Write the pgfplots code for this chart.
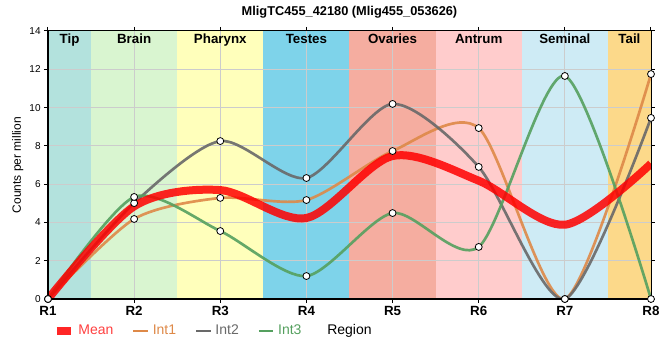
\documentclass[border=0pt]{standalone}
\usepackage{pgfplots}
\pgfplotsset{compat=1.18}
\usepackage{fontspec}
\setmainfont{Liberation Sans}
\definecolor{cTip}{RGB}{179,226,221}
\definecolor{cBrain}{RGB}{217,245,208}
\definecolor{cPhar}{RGB}{255,255,187}
\definecolor{cTest}{RGB}{126,211,234}
\definecolor{cOva}{RGB}{245,173,160}
\definecolor{cAntr}{RGB}{255,204,204}
\definecolor{cSem}{RGB}{206,235,245}
\definecolor{cTail}{RGB}{252,217,138}
\definecolor{cI1}{RGB}{222,137,72}
\definecolor{cI2}{RGB}{105,105,105}
\definecolor{cI3}{RGB}{85,160,95}
\definecolor{cMean}{RGB}{255,0,0}
\definecolor{cGrid}{RGB}{204,204,204}
\begin{document}
\begin{tikzpicture}
\path[use as bounding box] (-36pt,-45.75pt) rectangle (459pt,224.25pt);
\begin{axis}[
  at={(0pt,0pt)}, anchor=south west,
  scale only axis, width=452.25pt, height=201pt,
  xmin=1, xmax=8, ymin=0, ymax=14,
  xtick={1,2,3,4,5,6,7,8},
  xticklabels={R1,R2,R3,R4,R5,R6,R7,R8},
  ytick={0,2,4,6,8,10,12,14},
  /pgf/number format/assume math mode=true,
  axis line style={black, line width=1pt},
  tick align=outside, major tick length=3pt,
  tick style={black, line width=0.75pt},
  xticklabel style={font=\bfseries\fontsize{10}{12}\selectfont, yshift=1pt},
  yticklabel style={font=\fontsize{7.5}{9}\selectfont, xshift=1pt},
  xlabel={Region},
  xlabel style={at={(axis description cs:0.5,-0.119)}, anchor=center, font=\fontsize{10.5}{12}\selectfont},
  ylabel={Counts per million},
  ylabel style={at={(axis description cs:-0.05,0.5)}, anchor=center, font=\fontsize{9}{11}\selectfont},
  title={MligTC455\_42180 (Mlig455\_053626)},
  title style={at={(axis description cs:0.5,1)}, anchor=base, yshift=5.5pt, font=\bfseries\fontsize{9.6}{11}\selectfont},
  legend columns=4,
  legend style={at={(axis description cs:0.008,-0.119)}, anchor=west, draw=none, fill=none,
    font=\fontsize{10.5}{12}\selectfont, inner sep=0pt,
    /tikz/every even column/.append style={column sep=12pt},
    /tikz/every odd column/.append style={column sep=0.5pt}},
  legend cell align=left,
  legend image code/.code={\draw[#1] (0pt,0pt) -- (11pt,0pt);},
]
% background bands
\addplot[fill=cTip, draw=none, forget plot] coordinates {(1,14) (1.5,14)} \closedcycle;
\addplot[fill=cBrain, draw=none, forget plot] coordinates {(1.5,14) (2.5,14)} \closedcycle;
\addplot[fill=cPhar, draw=none, forget plot] coordinates {(2.5,14) (3.5,14)} \closedcycle;
\addplot[fill=cTest, draw=none, forget plot] coordinates {(3.5,14) (4.5,14)} \closedcycle;
\addplot[fill=cOva, draw=none, forget plot] coordinates {(4.5,14) (5.5,14)} \closedcycle;
\addplot[fill=cAntr, draw=none, forget plot] coordinates {(5.5,14) (6.5,14)} \closedcycle;
\addplot[fill=cSem, draw=none, forget plot] coordinates {(6.5,14) (7.5,14)} \closedcycle;
\addplot[fill=cTail, draw=none, forget plot] coordinates {(7.5,14) (8,14)} \closedcycle;

% grid
\draw[cGrid, line width=0.75pt] (axis cs:2,0) -- (axis cs:2,14) (axis cs:3,0) -- (axis cs:3,14)
  (axis cs:4,0) -- (axis cs:4,14) (axis cs:5,0) -- (axis cs:5,14) (axis cs:6,0) -- (axis cs:6,14)
  (axis cs:7,0) -- (axis cs:7,14)
  (axis cs:1,2) -- (axis cs:8,2) (axis cs:1,4) -- (axis cs:8,4) (axis cs:1,6) -- (axis cs:8,6)
  (axis cs:1,8) -- (axis cs:8,8) (axis cs:1,10) -- (axis cs:8,10) (axis cs:1,12) -- (axis cs:8,12);

% legend images
\addlegendimage{cMean, opacity=0.85, line width=5.5pt}
\addlegendentry{\textcolor{cMean!75}{Mean}}
\addlegendimage{cI1, line width=2pt}
\addlegendentry{\textcolor{cI1}{Int1}}
\addlegendimage{cI2, line width=2pt}
\addlegendentry{\textcolor{cI2}{Int2}}
\addlegendimage{cI3, line width=2pt}
\addlegendentry{\textcolor{cI3}{Int3}}

% series lines
\addplot[cI1, line width=2pt, opacity=0.9, smooth, tension=0.45, no marks, forget plot] coordinates {(1,0) (2,4.18) (3,5.28) (4,5.17) (5,7.73) (6,8.93) (7,0) (8,11.75)};
\addplot[cI2, line width=2pt, opacity=0.9, smooth, tension=0.45, no marks, forget plot] coordinates {(1,0) (2,5.01) (3,8.25) (4,6.32) (5,10.19) (6,6.9) (7,0) (8,9.46)};
\addplot[cI3, line width=2pt, opacity=0.9, smooth, tension=0.45, no marks, forget plot] coordinates {(1,0) (2,5.33) (3,3.55) (4,1.2) (5,4.49) (6,2.72) (7,11.65) (8,0)};
\addplot[cMean, line width=6pt, opacity=0.85, smooth, tension=0.5, no marks, forget plot] coordinates {(1,0) (2,4.84) (3,5.69) (4,4.23) (5,7.47) (6,6.18) (7,3.88) (8,7.07)};

\draw[black, line width=2pt] (rel axis cs:0,1) -- (rel axis cs:0,0) -- (rel axis cs:1,0);

% markers
\addplot[only marks, mark=*, mark size=2.6pt, mark options={fill=white, draw=black, line width=0.6pt}, forget plot] coordinates {(1,0) (2,4.18) (3,5.28) (4,5.17) (5,7.73) (6,8.93) (7,0) (8,11.75)};
\addplot[only marks, mark=*, mark size=2.6pt, mark options={fill=white, draw=black, line width=0.6pt}, forget plot] coordinates {(1,0) (2,5.01) (3,8.25) (4,6.32) (5,10.19) (6,6.9) (7,0) (8,9.46)};
\addplot[only marks, mark=*, mark size=2.6pt, mark options={fill=white, draw=black, line width=0.6pt}, forget plot] coordinates {(1,0) (2,5.33) (3,3.55) (4,1.2) (5,4.49) (6,2.72) (7,11.65) (8,0)};

% band labels
\node[anchor=base, font=\bfseries\fontsize{10}{12}\selectfont, yshift=-9.5pt] at (axis cs:1.25,14) {Tip};
\node[anchor=base, font=\bfseries\fontsize{10}{12}\selectfont, yshift=-9.5pt] at (axis cs:2,14) {Brain};
\node[anchor=base, font=\bfseries\fontsize{10}{12}\selectfont, yshift=-9.5pt] at (axis cs:3,14) {Pharynx};
\node[anchor=base, font=\bfseries\fontsize{10}{12}\selectfont, yshift=-9.5pt] at (axis cs:4,14) {Testes};
\node[anchor=base, font=\bfseries\fontsize{10}{12}\selectfont, yshift=-9.5pt] at (axis cs:5,14) {Ovaries};
\node[anchor=base, font=\bfseries\fontsize{10}{12}\selectfont, yshift=-9.5pt] at (axis cs:6,14) {Antrum};
\node[anchor=base, font=\bfseries\fontsize{10}{12}\selectfont, yshift=-9.5pt] at (axis cs:7,14) {Seminal};
\node[anchor=base, font=\bfseries\fontsize{10}{12}\selectfont, yshift=-9.5pt] at (axis cs:7.75,14) {Tail};
\end{axis}
\end{tikzpicture}
\end{document}
